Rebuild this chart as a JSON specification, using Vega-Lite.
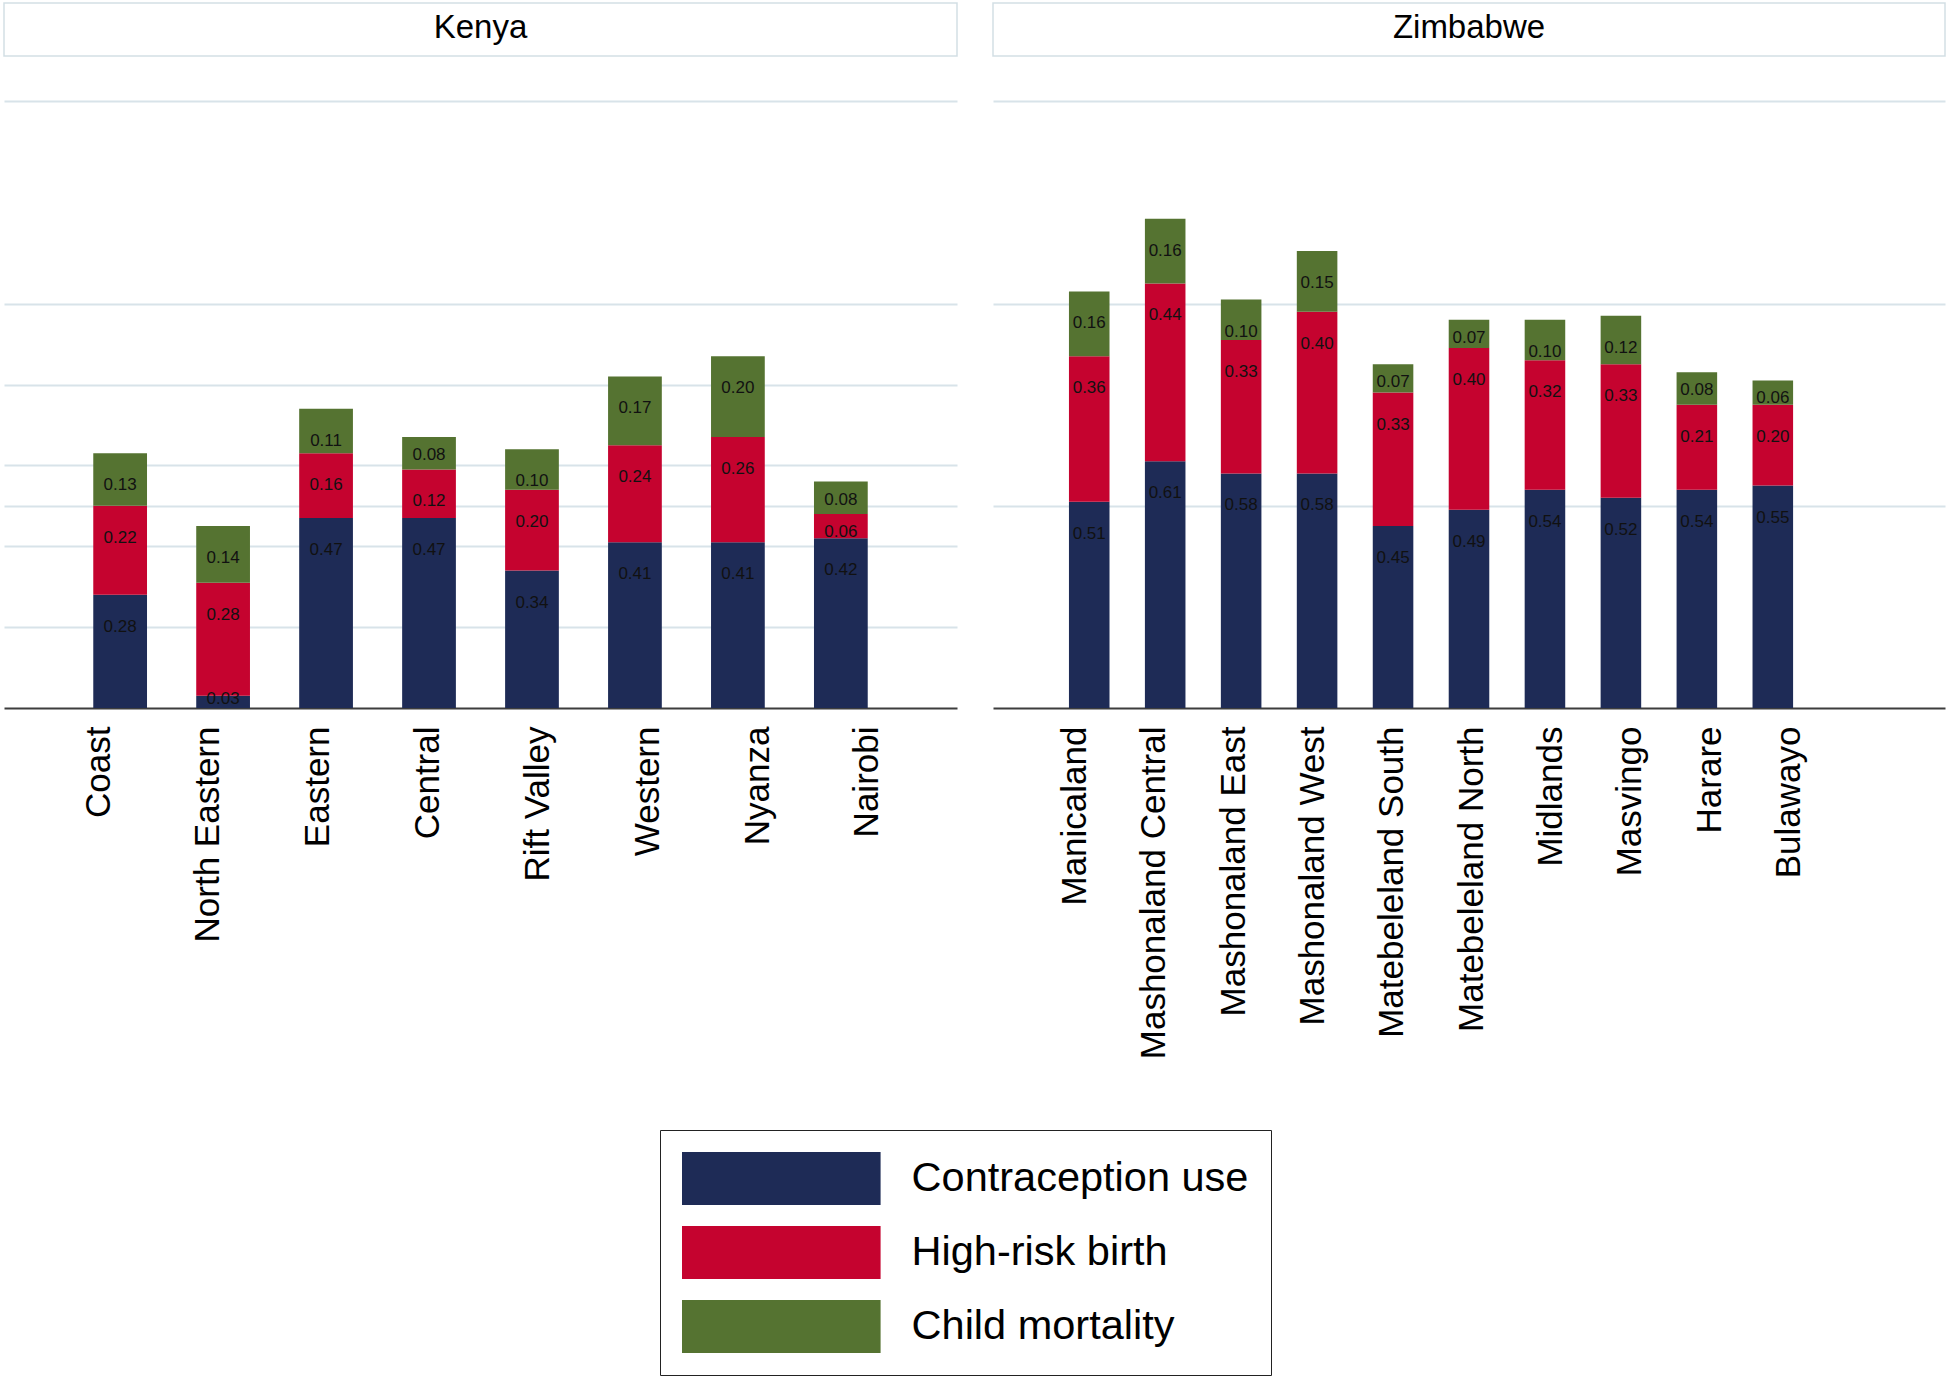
{
  "$schema": "https://vega.github.io/schema/vega-lite/v6.json",
  "background": "white",
  "padding": {"left": 3, "top": 2, "right": 0, "bottom": 0},
  "bounds": "flush",
  "columns": 2,
  "spacing": {"row": 5, "column": 36},
  "datasets": {
    "rows": [
      {"country": "Kenya", "region": "Coast", "indicator": "Contraception use", "value": 0.28},
      {"country": "Kenya", "region": "Coast", "indicator": "High-risk birth", "value": 0.22},
      {"country": "Kenya", "region": "Coast", "indicator": "Child mortality", "value": 0.13},
      {"country": "Kenya", "region": "North Eastern", "indicator": "Contraception use", "value": 0.03},
      {"country": "Kenya", "region": "North Eastern", "indicator": "High-risk birth", "value": 0.28},
      {"country": "Kenya", "region": "North Eastern", "indicator": "Child mortality", "value": 0.14},
      {"country": "Kenya", "region": "Eastern", "indicator": "Contraception use", "value": 0.47},
      {"country": "Kenya", "region": "Eastern", "indicator": "High-risk birth", "value": 0.16},
      {"country": "Kenya", "region": "Eastern", "indicator": "Child mortality", "value": 0.11},
      {"country": "Kenya", "region": "Central", "indicator": "Contraception use", "value": 0.47},
      {"country": "Kenya", "region": "Central", "indicator": "High-risk birth", "value": 0.12},
      {"country": "Kenya", "region": "Central", "indicator": "Child mortality", "value": 0.08},
      {"country": "Kenya", "region": "Rift Valley", "indicator": "Contraception use", "value": 0.34},
      {"country": "Kenya", "region": "Rift Valley", "indicator": "High-risk birth", "value": 0.20},
      {"country": "Kenya", "region": "Rift Valley", "indicator": "Child mortality", "value": 0.10},
      {"country": "Kenya", "region": "Western", "indicator": "Contraception use", "value": 0.41},
      {"country": "Kenya", "region": "Western", "indicator": "High-risk birth", "value": 0.24},
      {"country": "Kenya", "region": "Western", "indicator": "Child mortality", "value": 0.17},
      {"country": "Kenya", "region": "Nyanza", "indicator": "Contraception use", "value": 0.41},
      {"country": "Kenya", "region": "Nyanza", "indicator": "High-risk birth", "value": 0.26},
      {"country": "Kenya", "region": "Nyanza", "indicator": "Child mortality", "value": 0.20},
      {"country": "Kenya", "region": "Nairobi", "indicator": "Contraception use", "value": 0.42},
      {"country": "Kenya", "region": "Nairobi", "indicator": "High-risk birth", "value": 0.06},
      {"country": "Kenya", "region": "Nairobi", "indicator": "Child mortality", "value": 0.08},
      {"country": "Zimbabwe", "region": "Manicaland", "indicator": "Contraception use", "value": 0.51},
      {"country": "Zimbabwe", "region": "Manicaland", "indicator": "High-risk birth", "value": 0.36},
      {"country": "Zimbabwe", "region": "Manicaland", "indicator": "Child mortality", "value": 0.16},
      {"country": "Zimbabwe", "region": "Mashonaland Central", "indicator": "Contraception use", "value": 0.61},
      {"country": "Zimbabwe", "region": "Mashonaland Central", "indicator": "High-risk birth", "value": 0.44},
      {"country": "Zimbabwe", "region": "Mashonaland Central", "indicator": "Child mortality", "value": 0.16},
      {"country": "Zimbabwe", "region": "Mashonaland East", "indicator": "Contraception use", "value": 0.58},
      {"country": "Zimbabwe", "region": "Mashonaland East", "indicator": "High-risk birth", "value": 0.33},
      {"country": "Zimbabwe", "region": "Mashonaland East", "indicator": "Child mortality", "value": 0.10},
      {"country": "Zimbabwe", "region": "Mashonaland West", "indicator": "Contraception use", "value": 0.58},
      {"country": "Zimbabwe", "region": "Mashonaland West", "indicator": "High-risk birth", "value": 0.40},
      {"country": "Zimbabwe", "region": "Mashonaland West", "indicator": "Child mortality", "value": 0.15},
      {"country": "Zimbabwe", "region": "Matebeleland South", "indicator": "Contraception use", "value": 0.45},
      {"country": "Zimbabwe", "region": "Matebeleland South", "indicator": "High-risk birth", "value": 0.33},
      {"country": "Zimbabwe", "region": "Matebeleland South", "indicator": "Child mortality", "value": 0.07},
      {"country": "Zimbabwe", "region": "Matebeleland North", "indicator": "Contraception use", "value": 0.49},
      {"country": "Zimbabwe", "region": "Matebeleland North", "indicator": "High-risk birth", "value": 0.40},
      {"country": "Zimbabwe", "region": "Matebeleland North", "indicator": "Child mortality", "value": 0.07},
      {"country": "Zimbabwe", "region": "Midlands", "indicator": "Contraception use", "value": 0.54},
      {"country": "Zimbabwe", "region": "Midlands", "indicator": "High-risk birth", "value": 0.32},
      {"country": "Zimbabwe", "region": "Midlands", "indicator": "Child mortality", "value": 0.10},
      {"country": "Zimbabwe", "region": "Masvingo", "indicator": "Contraception use", "value": 0.52},
      {"country": "Zimbabwe", "region": "Masvingo", "indicator": "High-risk birth", "value": 0.33},
      {"country": "Zimbabwe", "region": "Masvingo", "indicator": "Child mortality", "value": 0.12},
      {"country": "Zimbabwe", "region": "Harare", "indicator": "Contraception use", "value": 0.54},
      {"country": "Zimbabwe", "region": "Harare", "indicator": "High-risk birth", "value": 0.21},
      {"country": "Zimbabwe", "region": "Harare", "indicator": "Child mortality", "value": 0.08},
      {"country": "Zimbabwe", "region": "Bulawayo", "indicator": "Contraception use", "value": 0.55},
      {"country": "Zimbabwe", "region": "Bulawayo", "indicator": "High-risk birth", "value": 0.20},
      {"country": "Zimbabwe", "region": "Bulawayo", "indicator": "Child mortality", "value": 0.06}
    ],
    "ranks": [
      {"indicator": "Contraception use", "rank": 1},
      {"indicator": "High-risk birth", "rank": 2},
      {"indicator": "Child mortality", "rank": 3}
    ]
  },
  "concat": [
    {
      "data": {"values": [{"panel": "Kenya"}]},
      "width": 953,
      "height": 53,
      "view": {"stroke": "#d3dfe5", "strokeWidth": 1.5, "fill": "white"},
      "mark": {"type": "text", "fontSize": 33, "font": "Liberation Sans", "color": "black", "dy": -2},
      "encoding": {"text": {"field": "panel", "type": "nominal"}}
    },
    {
      "data": {"values": [{"panel": "Zimbabwe"}]},
      "width": 952,
      "height": 53,
      "view": {"stroke": "#d3dfe5", "strokeWidth": 1.5, "fill": "white"},
      "mark": {"type": "text", "fontSize": 33, "font": "Liberation Sans", "color": "black", "dy": -2},
      "encoding": {"text": {"field": "panel", "type": "nominal"}}
    },
    {
      "data": {"name": "rows"},
      "transform": [
        {"filter": {"field": "country", "equal": "Kenya"}},
        {"lookup": "indicator", "from": {"data": {"name": "ranks"}, "key": "indicator", "fields": ["rank"]}},
        {"stack": "value", "groupby": ["region"], "sort": [{"field": "rank", "order": "ascending"}], "as": ["v0", "v1"]}
      ],
      "width": 953,
      "height": 647,
      "layer": [
        {
          "mark": {"type": "bar"},
          "encoding": {
            "x": {"field": "region", "type": "nominal", "scale": {"type": "band", "domain": ["Coast", "North Eastern", "Eastern", "Central", "Rift Valley", "Western", "Nyanza", "Nairobi"], "paddingInner": 0.478, "paddingOuter": 0.867, "align": 0.5}, "axis": null},
            "y": {"field": "v1", "type": "quantitative", "scale": {"domain": [0, 1.6], "nice": false, "zero": true}, "axis": {"values": [0.2, 0.4, 0.5, 0.6, 0.8, 1, 1.5], "labels": false, "ticks": false, "domain": false, "grid": true, "gridColor": "#d8e3e9", "gridWidth": 2, "title": null}},
            "y2": {"field": "v0"},
            "color": {"field": "indicator", "type": "nominal", "scale": {"domain": ["Contraception use", "High-risk birth", "Child mortality"], "range": ["#1e2b56", "#c5032f", "#557331"]}, "legend": {"title": null, "orient": "none", "legendX": 656, "legendY": 1127, "direction": "vertical", "symbolType": "M-1,-1H6.494V1H-1Z", "symbolSize": 2809, "symbolStrokeWidth": 0, "symbolOpacity": 1, "labelFontSize": 41.5, "labelFont": "Liberation Sans", "labelColor": "black", "labelLimit": 600, "labelOffset": 176.6, "rowPadding": 21, "padding": 22, "strokeColor": "#222222", "fillColor": "white"}}
          }
        },
        {
          "transform": [{"filter": {"field": "value", "gte": 0.09}}],
          "mark": {"type": "text", "fontSize": 17, "font": "Liberation Sans", "color": "#111111", "baseline": "middle", "dy": 32},
          "encoding": {
            "x": {"field": "region", "type": "nominal", "scale": {"type": "band", "domain": ["Coast", "North Eastern", "Eastern", "Central", "Rift Valley", "Western", "Nyanza", "Nairobi"], "paddingInner": 0.478, "paddingOuter": 0.867, "align": 0.5}, "axis": null},
            "y": {"field": "v1", "type": "quantitative"},
            "text": {"field": "value", "type": "quantitative", "format": ".2f"}
          }
        },
        {
          "transform": [{"filter": {"field": "value", "range": [0.05, 0.0899]}}],
          "mark": {"type": "text", "fontSize": 17, "font": "Liberation Sans", "color": "#111111", "baseline": "middle", "dy": 18},
          "encoding": {
            "x": {"field": "region", "type": "nominal", "scale": {"type": "band", "domain": ["Coast", "North Eastern", "Eastern", "Central", "Rift Valley", "Western", "Nyanza", "Nairobi"], "paddingInner": 0.478, "paddingOuter": 0.867, "align": 0.5}, "axis": null},
            "y": {"field": "v1", "type": "quantitative"},
            "text": {"field": "value", "type": "quantitative", "format": ".2f"}
          }
        },
        {
          "transform": [{"filter": {"field": "value", "lt": 0.05}}],
          "mark": {"type": "text", "fontSize": 17, "font": "Liberation Sans", "color": "#111111", "baseline": "middle", "dy": 3},
          "encoding": {
            "x": {"field": "region", "type": "nominal", "scale": {"type": "band", "domain": ["Coast", "North Eastern", "Eastern", "Central", "Rift Valley", "Western", "Nyanza", "Nairobi"], "paddingInner": 0.478, "paddingOuter": 0.867, "align": 0.5}, "axis": null},
            "y": {"field": "v1", "type": "quantitative"},
            "text": {"field": "value", "type": "quantitative", "format": ".2f"}
          }
        },
        {
          "mark": {"type": "point", "opacity": 0},
          "encoding": {
            "x": {"field": "region", "type": "nominal", "scale": {"type": "point", "domain": ["Coast", "North Eastern", "Eastern", "Central", "Rift Valley", "Western", "Nyanza", "Nairobi"], "padding": 0.8375, "align": 0.5}, "axis": {"orient": "bottom", "title": null, "labelAngle": -90, "labelFont": "Liberation Sans", "labelFontSize": 35, "labelColor": "black", "labelPadding": 18, "ticks": false, "tickSize": 0, "labelOffset": 2, "domain": true, "domainColor": "#3d3d3d", "domainWidth": 2, "grid": false, "labelLimit": 800, "labelOverlap": false}}
          }
        }
      ],
      "resolve": {"scale": {"x": "independent"}}
    },
    {
      "data": {"name": "rows"},
      "transform": [
        {"filter": {"field": "country", "equal": "Zimbabwe"}},
        {"lookup": "indicator", "from": {"data": {"name": "ranks"}, "key": "indicator", "fields": ["rank"]}},
        {"stack": "value", "groupby": ["region"], "sort": [{"field": "rank", "order": "ascending"}], "as": ["v0", "v1"]}
      ],
      "width": 952,
      "height": 647,
      "layer": [
        {
          "mark": {"type": "bar"},
          "encoding": {
            "x": {"field": "region", "type": "nominal", "scale": {"type": "band", "domain": ["Manicaland", "Mashonaland Central", "Mashonaland East", "Mashonaland West", "Matebeleland South", "Matebeleland North", "Midlands", "Masvingo", "Harare", "Bulawayo", " "], "paddingInner": 0.466, "paddingOuter": 1, "align": 0.5}, "axis": null},
            "y": {"field": "v1", "type": "quantitative", "scale": {"domain": [0, 1.6], "nice": false, "zero": true}, "axis": {"values": [0.5, 1, 1.5], "labels": false, "ticks": false, "domain": false, "grid": true, "gridColor": "#d8e3e9", "gridWidth": 2, "title": null}},
            "y2": {"field": "v0"},
            "color": {"field": "indicator", "type": "nominal", "scale": {"domain": ["Contraception use", "High-risk birth", "Child mortality"], "range": ["#1e2b56", "#c5032f", "#557331"]}, "legend": {"title": null, "orient": "none", "legendX": 656, "legendY": 1127, "direction": "vertical", "symbolType": "M-1,-1H6.494V1H-1Z", "symbolSize": 2809, "symbolStrokeWidth": 0, "symbolOpacity": 1, "labelFontSize": 41.5, "labelFont": "Liberation Sans", "labelColor": "black", "labelLimit": 600, "labelOffset": 176.6, "rowPadding": 21, "padding": 22, "strokeColor": "#222222", "fillColor": "white"}}
          }
        },
        {
          "transform": [{"filter": {"field": "value", "gte": 0.09}}],
          "mark": {"type": "text", "fontSize": 17, "font": "Liberation Sans", "color": "#111111", "baseline": "middle", "dy": 32},
          "encoding": {
            "x": {"field": "region", "type": "nominal", "scale": {"type": "band", "domain": ["Manicaland", "Mashonaland Central", "Mashonaland East", "Mashonaland West", "Matebeleland South", "Matebeleland North", "Midlands", "Masvingo", "Harare", "Bulawayo", " "], "paddingInner": 0.466, "paddingOuter": 1, "align": 0.5}, "axis": null},
            "y": {"field": "v1", "type": "quantitative"},
            "text": {"field": "value", "type": "quantitative", "format": ".2f"}
          }
        },
        {
          "transform": [{"filter": {"field": "value", "range": [0.05, 0.0899]}}],
          "mark": {"type": "text", "fontSize": 17, "font": "Liberation Sans", "color": "#111111", "baseline": "middle", "dy": 18},
          "encoding": {
            "x": {"field": "region", "type": "nominal", "scale": {"type": "band", "domain": ["Manicaland", "Mashonaland Central", "Mashonaland East", "Mashonaland West", "Matebeleland South", "Matebeleland North", "Midlands", "Masvingo", "Harare", "Bulawayo", " "], "paddingInner": 0.466, "paddingOuter": 1, "align": 0.5}, "axis": null},
            "y": {"field": "v1", "type": "quantitative"},
            "text": {"field": "value", "type": "quantitative", "format": ".2f"}
          }
        },
        {
          "mark": {"type": "point", "opacity": 0},
          "encoding": {
            "x": {"field": "region", "type": "nominal", "scale": {"type": "point", "domain": ["Manicaland", "Mashonaland Central", "Mashonaland East", "Mashonaland West", "Matebeleland South", "Matebeleland North", "Midlands", "Masvingo", "Harare", "Bulawayo", " "], "padding": 1, "align": 0.5}, "axis": {"orient": "bottom", "title": null, "labelAngle": -90, "labelFont": "Liberation Sans", "labelFontSize": 35, "labelColor": "black", "labelPadding": 18, "ticks": false, "tickSize": 0, "labelOffset": 2, "domain": true, "domainColor": "#3d3d3d", "domainWidth": 2, "grid": false, "labelLimit": 800, "labelOverlap": false}}
          }
        }
      ],
      "resolve": {"scale": {"x": "independent"}}
    }
  ],
  "config": {"view": {"stroke": null}, "font": "Liberation Sans"}
}
